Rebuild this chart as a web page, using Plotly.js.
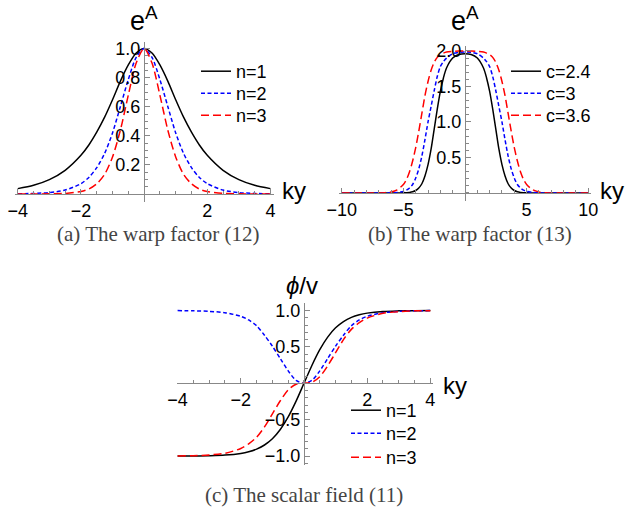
<!DOCTYPE html>
<html>
<head>
<meta charset="utf-8">
<script src="https://cdn.plot.ly/plotly-3.0.1.min.js"></script>
<style>
  html, body { margin: 0; padding: 0; background: #fff; }
  #plot { width: 626px; height: 508px; }
</style>
</head>
<body>
<div id="plot"></div>
<script>
// (a) warp factor (12)
const kyA = [-4, -3.5, -3, -2.5, -2, -1.75, -1.5, -1.25, -1, -0.75, -0.5, -0.25, 0,
             0.25, 0.5, 0.75, 1, 1.25, 1.5, 1.75, 2, 2.5, 3, 3.5, 4];
const warpN1 = [0.037, 0.060, 0.099, 0.163, 0.266, 0.337, 0.425, 0.528, 0.648, 0.776, 0.887, 0.969, 1,
                0.969, 0.887, 0.776, 0.648, 0.528, 0.425, 0.337, 0.266, 0.163, 0.099, 0.060, 0.037];
const warpN2 = [0.001, 0.004, 0.010, 0.027, 0.071, 0.114, 0.181, 0.279, 0.420, 0.602, 0.787, 0.939, 1,
                0.939, 0.787, 0.602, 0.420, 0.279, 0.181, 0.114, 0.071, 0.027, 0.010, 0.004, 0.001];
const warpN3 = [0, 0, 0.001, 0.004, 0.017, 0.034, 0.070, 0.135, 0.255, 0.44, 0.68, 0.90, 1,
                0.90, 0.68, 0.44, 0.255, 0.135, 0.070, 0.034, 0.017, 0.004, 0.001, 0, 0];

// (b) warp factor (13)
const kyB = [-10, -8, -7, -6.5, -6, -5.5, -5, -4.75, -4.5, -4.25, -4, -3.75, -3.5, -3.25, -3, -2.75,
             -2.5, -2.25, -2, -1.75, -1.5, -1, -0.5, 0, 0.5, 1, 1.5, 1.75, 2, 2.25, 2.5, 2.75, 3,
             3.25, 3.5, 3.75, 4, 4.25, 4.5, 4.75, 5, 5.5, 6, 6.5, 7, 8, 10];
const warpC24 = [0, 0, 0, 0, 0, 0.001, 0.002, 0.004, 0.008, 0.017, 0.035, 0.07, 0.13, 0.24, 0.40, 0.62,
                 0.90, 1.18, 1.43, 1.62, 1.76, 1.90, 1.95, 1.96, 1.95, 1.90, 1.76, 1.62, 1.43, 1.18, 0.90,
                 0.62, 0.40, 0.24, 0.13, 0.07, 0.035, 0.017, 0.008, 0.004, 0.002, 0.001, 0, 0, 0, 0, 0];
const warpC3 = [0, 0, 0, 0.001, 0.002, 0.007, 0.022, 0.04, 0.07, 0.12, 0.21, 0.34, 0.52, 0.75, 1.00, 1.22,
                1.44, 1.64, 1.78, 1.85, 1.90, 1.96, 1.98, 1.985, 1.98, 1.96, 1.90, 1.85, 1.78, 1.64, 1.44,
                1.22, 1.00, 0.75, 0.52, 0.34, 0.21, 0.12, 0.07, 0.04, 0.022, 0.007, 0.002, 0.001, 0, 0, 0];
const warpC36 = [0, 0, 0.001, 0.005, 0.015, 0.045, 0.12, 0.19, 0.30, 0.45, 0.64, 0.87, 1.12, 1.37, 1.57, 1.73,
                 1.84, 1.91, 1.95, 1.97, 1.985, 1.995, 2.0, 2.0, 2.0, 1.995, 1.985, 1.97, 1.95, 1.91, 1.84,
                 1.73, 1.57, 1.37, 1.12, 0.87, 0.64, 0.45, 0.30, 0.19, 0.12, 0.045, 0.015, 0.005, 0.001, 0, 0];

// (c) scalar field (11)
const kyC = kyA;
const phiN1 = [-0.999, -0.998, -0.995, -0.987, -0.964, -0.941, -0.905, -0.848, -0.762, -0.635, -0.462, -0.245, 0,
               0.245, 0.462, 0.635, 0.762, 0.848, 0.905, 0.941, 0.964, 0.987, 0.995, 0.998, 0.999];
const phiN2 = [0.999, 0.996, 0.988, 0.97, 0.92, 0.87, 0.79, 0.66, 0.51, 0.34, 0.17, 0.04, 0,
               0.04, 0.17, 0.34, 0.51, 0.66, 0.79, 0.87, 0.92, 0.97, 0.988, 0.996, 0.999];
const phiN3 = [-0.998, -0.995, -0.985, -0.961, -0.896, -0.833, -0.741, -0.60, -0.42, -0.24, -0.09, -0.013, 0,
               0.013, 0.09, 0.24, 0.42, 0.60, 0.741, 0.833, 0.896, 0.961, 0.985, 0.995, 0.998];

const W = 626, H = 508;
const px = v => v / W;          // pixel -> paper x
const py = v => (H - v) / H;    // pixel -> paper y

const solid = { color: '#000', width: 1.5 };
const dotted = { color: '#0000ff', width: 1.5, dash: '4px,2.5px' };
const dashed = { color: '#ff0000', width: 1.5, dash: '8px,4px' };

function curve(x, y, name, line, xa, ya, legend) {
    return { x: x, y: y, name: name, type: 'scatter', mode: 'lines',
             line: Object.assign({ shape: 'spline', smoothing: 0.8 }, line),
             xaxis: xa, yaxis: ya, legend: legend, hoverinfo: 'skip' };
}

// one legend per entry so the rows sit as tight as in the original
const traces = [
    curve(kyA, warpN1, 'n=1', solid, 'x', 'y', 'legend'),
    curve(kyA, warpN2, 'n=2', dotted, 'x', 'y', 'legend2'),
    curve(kyA, warpN3, 'n=3', dashed, 'x', 'y', 'legend3'),
    curve(kyB, warpC24, 'c=2.4', solid, 'x2', 'y2', 'legend4'),
    curve(kyB, warpC3, 'c=3', dotted, 'x2', 'y2', 'legend5'),
    curve(kyB, warpC36, 'c=3.6', dashed, 'x2', 'y2', 'legend6'),
    curve(kyC, phiN1, 'n=1', solid, 'x3', 'y3', 'legend7'),
    curve(kyC, phiN2, 'n=2', dotted, 'x3', 'y3', 'legend8'),
    curve(kyC, phiN3, 'n=3', dashed, 'x3', 'y3', 'legend9')
];

const tickFont = { family: 'Liberation Sans, Arial, sans-serif', size: 18, color: '#000' };

// Mathematica style axes: they cross at the origin
function axis(domain, range, position, tickvals, minorStep, fmt) {
    return {
        domain: domain, range: range, anchor: 'free', position: position,
        showline: true, linecolor: '#888', linewidth: 1,
        showgrid: false, zeroline: false, fixedrange: true,
        tickmode: 'array', tickvals: tickvals, tickformat: fmt,
        ticks: 'inside', ticklen: 5, tickcolor: '#888', tickfont: tickFont,
        minor: { tickmode: 'linear', tick0: 0, dtick: minorStep, ticks: 'inside',
                 ticklen: 3, tickcolor: '#888', showgrid: false }
    };
}

function legendAt(x, y) {
    return { x: px(x), y: py(y), xanchor: 'left', yanchor: 'top', bgcolor: 'rgba(0,0,0,0)',
             font: { family: 'Liberation Sans, Arial, sans-serif', size: 18, color: '#000' } };
}

const labelFont = { family: 'Liberation Sans, Arial, sans-serif', size: 24, color: '#000' };
const expFont = { family: 'Liberation Sans, Arial, sans-serif', size: 27, color: '#000' };
const capFont = { family: 'Liberation Serif, Times New Roman, serif', size: 21, color: '#444' };

function note(text, x, y, font) {
    return { text: text, x: px(x), y: py(y), xref: 'paper', yref: 'paper',
             xanchor: 'center', yanchor: 'middle', showarrow: false, font: font };
}

const layout = {
    width: W, height: H,
    margin: { l: 0, r: 0, t: 0, b: 0 },
    paper_bgcolor: '#fff', plot_bgcolor: 'rgba(0,0,0,0)',
    showlegend: true,
    xaxis:  axis([px(14.6), px(273.6)], [-4.1, 4.1], py(194), [-4, -2, 2, 4], 0.5, 'd'),
    yaxis:  axis([py(202), py(42)], [-0.055, 1.045], px(144), [0.2, 0.4, 0.6, 0.8, 1.0], 0.05, '.1f'),
    xaxis2: axis([px(339.3), px(590.7)], [-10.2, 10.2], py(193), [-10, -5, 5, 10], 1, 'd'),
    yaxis2: axis([py(200.8), py(46)], [-0.11, 2.07], px(465), [0.5, 1.0, 1.5, 2.0], 0.1, '.1f'),
    xaxis3: axis([px(176.65), px(432.9)], [-4.03, 4.08], py(383.3), [-4, -2, 2, 4], 0.5, 'd'),
    yaxis3: axis([py(464.8), py(302.5)], [-1.12, 1.11], px(304), [-1, -0.5, 0.5, 1], 0.1, '.1f'),
    legend:  legendAt(196, 53),
    legend2: legendAt(196, 75),
    legend3: legendAt(196, 97),
    legend4: legendAt(506, 53),
    legend5: legendAt(506, 75),
    legend6: legendAt(506, 97),
    legend7: legendAt(346, 392),
    legend8: legendAt(346, 415),
    legend9: legendAt(346, 439),
    annotations: [
        note('e<sup>A</sup>', 144, 19, expFont),
        note('ky', 294, 190, labelFont),
        note('e<sup>A</sup>', 465, 19, expFont),
        note('ky', 612, 190, labelFont),
        note('<i>ϕ</i>/v', 302, 285, labelFont),
        note('ky', 455, 385, labelFont),
        note('(a) The warp factor (12)', 158, 234, capFont),
        note('(b) The warp factor (13)', 470, 234, capFont),
        note('(c) The scalar field (11)', 304, 495, capFont)
    ]
};

Plotly.newPlot('plot', traces, layout, { staticPlot: true });
</script>
</body>
</html>
